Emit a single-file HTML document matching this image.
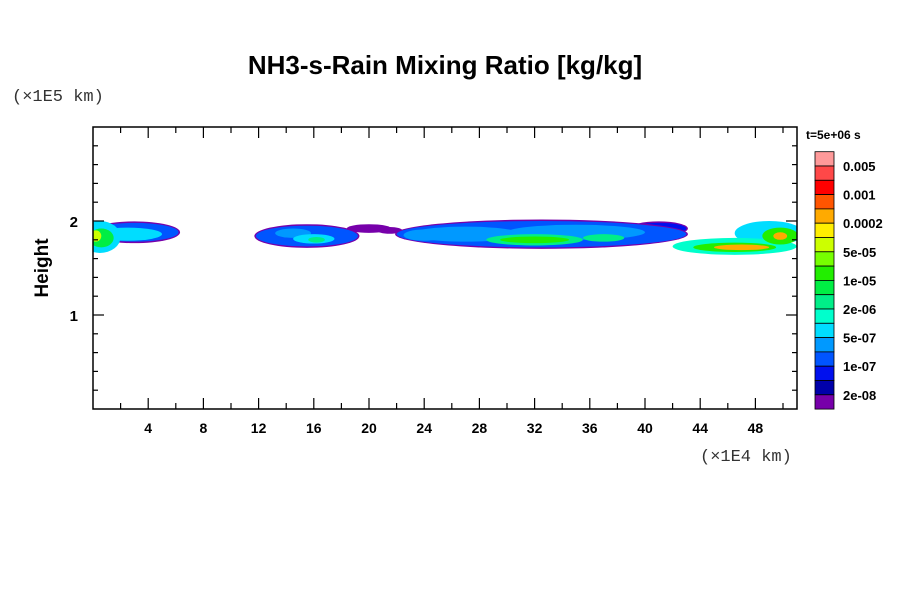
<!DOCTYPE html>
<html><head><meta charset="utf-8">
<style>
body{margin:0;background:#fff;}
svg{display:block;font-family:"Liberation Sans",sans-serif;}
</style></head><body>
<svg id="chart" width="900" height="600" viewBox="0 0 900 600">
<defs>
<clipPath id="plotclip"><rect x="93" y="127" width="704" height="282"/></clipPath>
</defs>
<text x="445" y="74" text-anchor="middle" font-size="26" font-weight="bold">NH3-s-Rain Mixing Ratio [kg/kg]</text>
<text x="12" y="101" font-size="17" fill="#333" font-family="Liberation Mono,monospace">(×1E5 km)</text>
<text x="700" y="461" font-size="17" fill="#333" font-family="Liberation Mono,monospace">(×1E4 km)</text>
<text transform="translate(48,268) rotate(-90)" text-anchor="middle" font-size="19" font-weight="bold">Height</text>
<text x="806" y="139" font-size="12" font-weight="bold">t=5e+06 s</text>
<g id="field" clip-path="url(#plotclip)"></g>
<rect x="93" y="127" width="704" height="282" fill="none" stroke="#000" stroke-width="1.5"/>
<g id="axes"></g>
<g id="cbar"></g>
</svg>
<script>
const xTicks=[4,8,12,16,20,24,28,32,36,40,44,48];
const yTicks=[1,2];
const cbarColors=["#ff9a9a","#ff4848","#ff0000","#ff5500","#ffaa00","#ffee00","#ccff00","#77ff00","#22ee00","#00ee44","#00ee88","#00ffcc","#00ddff","#0099ff","#0055ff","#0010ee","#0000aa","#7700aa"];
const cbarLabels=["0.005","0.001","0.0002","5e-05","1e-05","2e-06","5e-07","1e-07","2e-08"];
// blobs: x center (1e4 km), y center (1e5 km), x radius, y radius, color level index (17=lowest purple)
const blobX=[3,2.5,0.5,0.6,0.2, 15.5,14.5,16,16.2, 20,21.5, 32.5,27,35,24,41,32,32,37, 46.5,46.5,47, 49,49.8,49.8];
const blobY=[1.88,1.86,1.83,1.82,1.84, 1.84,1.87,1.81,1.8, 1.92,1.9, 1.86,1.86,1.88,1.85,1.92,1.8,1.8,1.82, 1.73,1.72,1.72, 1.87,1.84,1.84];
const blobRX=[3.2,2.5,1.5,0.9,0.4, 3.7,1.3,1.5,0.6, 1.5,0.8, 10.5,4,5,1.5,2,3.5,2.5,1.5, 4.5,3,2, 2.5,1.3,0.5];
const blobRY=[0.1,0.07,0.17,0.1,0.06, 0.11,0.05,0.05,0.03, 0.03,0.02, 0.14,0.08,0.08,0.06,0.06,0.06,0.035,0.04, 0.09,0.05,0.03, 0.13,0.09,0.04];
const blobLevel=[14,12,12,9,6, 14,13,12,10, 17,17, 14,13,13,13,15,10,8,10, 11,8,4, 12,8,4];

const X0=93,XS=13.8,Y0=409,YS=94;
const xp=v=>X0+v*XS, yp=v=>Y0-v*YS;
const NS="http://www.w3.org/2000/svg";
function mk(tag,attrs,parent){const e=document.createElementNS(NS,tag);for(const k in attrs)e.setAttribute(k,attrs[k]);parent.appendChild(e);return e;}

const field=document.getElementById('field');
const order=blobX.map((_,i)=>i).sort((a,b)=>blobLevel[b]-blobLevel[a]);
order.forEach(i=>{
  if(blobLevel[i]>=14){
    const rim=mk('ellipse',{cx:xp(blobX[i]),cy:yp(blobY[i]),rx:blobRX[i]*XS+1.5,ry:blobRY[i]*YS+1.5,fill:cbarColors[17]},field);
    
    
  }
  const el=mk('ellipse',{cx:xp(blobX[i]),cy:yp(blobY[i]),rx:blobRX[i]*XS,ry:blobRY[i]*YS,fill:cbarColors[blobLevel[i]]},field);
  
  
});

const axes=document.getElementById('axes');
for(let v=2;v<=50;v+=2){
  const major=v%4===0;const L=major?11:6;
  mk('line',{x1:xp(v),x2:xp(v),y1:409,y2:409-L,stroke:'#000','stroke-width':1.2},axes);
  mk('line',{x1:xp(v),x2:xp(v),y1:127,y2:127+L,stroke:'#000','stroke-width':1.2},axes);
}
xTicks.forEach(v=>{const t=mk('text',{x:xp(v),y:433,'text-anchor':'middle','font-size':14,'font-weight':'bold'},axes);t.textContent=v;
  
  });
for(let k=1;k<15;k++){const v=k*0.2;const major=(k%5===0);const L=major?11:5;
  mk('line',{x1:93,x2:93+L,y1:yp(v),y2:yp(v),stroke:'#000','stroke-width':1.2},axes);
  mk('line',{x1:797,x2:797-L,y1:yp(v),y2:yp(v),stroke:'#000','stroke-width':1.2},axes);
}
yTicks.forEach(v=>{const t=mk('text',{x:78,y:yp(v)+6,'text-anchor':'end','font-size':15,'font-weight':'bold'},axes);t.textContent=v;
  
  });

const cbar=document.getElementById('cbar');
const CT=151.7,CH=14.3;
cbarColors.forEach((c,i)=>{const r=mk('rect',{x:815,y:CT+i*CH,width:19,height:CH,fill:c,stroke:'#000','stroke-width':0.8},cbar);
  
  });
cbarLabels.forEach((l,i)=>{const t=mk('text',{x:843,y:CT+(2*i+1)*CH+5,'font-size':13,'font-weight':'bold'},cbar);t.textContent=l;
  
  });
</script>
</body></html>
